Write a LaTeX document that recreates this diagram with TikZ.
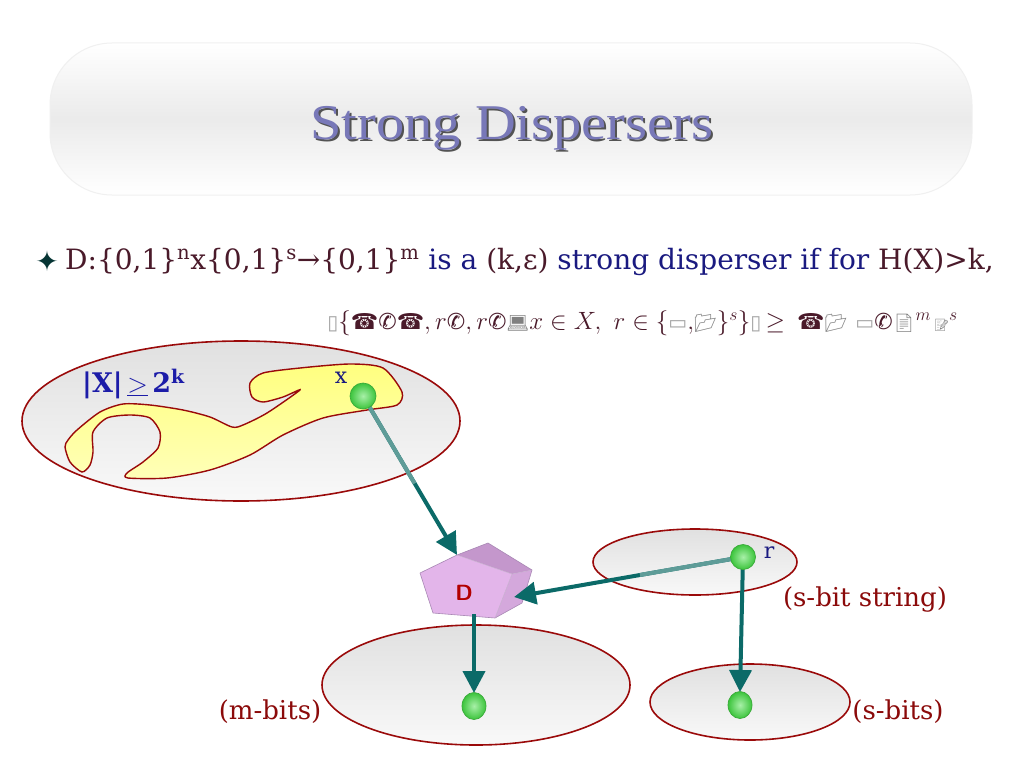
\RequirePackage{fix-cm}
\documentclass[tikz,border=0pt]{standalone}
\usepackage{fontspec}
\usetikzlibrary{shapes.geometric,arrows.meta,calc}
\setmainfont{DejaVu Serif}
\newfontfamily\dej{DejaVu Sans}
\newfontfamily\emo{Noto Emoji}
\newfontfamily\titlefont{Liberation Serif}
\newcommand{\emj}[1]{{\emo\color{gray}\fontsize{18}{20}\selectfont #1}}
\newcommand{\dbx}[1]{{\dej\color{gray!70}\fontsize{20}{20}\selectfont #1}}
\definecolor{maroonT}{HTML}{4A1A2A}
\definecolor{navyT}{HTML}{1A1A80}
\definecolor{blueT}{HTML}{1C1CA8}
\definecolor{redL}{HTML}{8B0A0A}
\definecolor{edgeR}{HTML}{9A0A0A}
\definecolor{tealD}{HTML}{0B6A68}
\definecolor{tealL}{HTML}{5E9C98}
\definecolor{titleC}{HTML}{7878B8}
\definecolor{penF}{HTML}{E3B5EA}
\definecolor{penT}{HTML}{C497CC}
\definecolor{penS}{HTML}{D4A8DC}
\definecolor{penE}{HTML}{A888B4}
\definecolor{ballIn}{HTML}{A8F0A8}
\definecolor{ballOut}{HTML}{3CC43C}
\definecolor{ballEdge}{HTML}{3AAA3A}
\tikzset{
  setnode/.style={ellipse, draw=edgeR, line width=1.6pt, top color=gray!24, bottom color=gray!5, inner sep=0pt},
  ball/.style={circle, draw=ballEdge, line width=0.7pt, inner color=ballIn, outer color=ballOut, inner sep=0pt, minimum size=#1},
  ball/.default=25pt,
  conn/.style={draw=tealD, line width=4pt, -{Triangle[length=22pt,width=22pt]}},
  connlight/.style={draw=tealL, line width=4pt},
  lbl/.style={font=\fontsize{26}{30}\selectfont, text=redL, inner sep=0pt},
  small/.style={font=\fontsize{22}{24}\selectfont, text=navyT, inner sep=0pt}
}
\begin{document}
\begin{tikzpicture}[x=1pt,y=-1pt]
\fill[white] (0,0) rectangle (1024,768);
\useasboundingbox (0,0) rectangle (1024,768);
% title box
\node[draw=gray!12, line width=1pt, rounded corners=62pt, minimum width=922pt, minimum height=152pt,
  top color=white, bottom color=white, middle color=gray!16] (titlebox) at (511,119) {};
\node[text=gray!65!black, font=\titlefont\fontsize{50}{56}\selectfont, xscale=1.13] at (514,130) {Strong Dispersers};
\node[text=titleC, font=\titlefont\fontsize{50}{56}\selectfont, xscale=1.13] (title) at (512,128) {Strong Dispersers};
% bullet line
\node[text=tealD!50!black, font=\dej\fontsize{28}{30}\selectfont, inner sep=0pt] (bul) at (47,261) {✦};
\node[anchor=west, inner sep=0pt, font=\fontsize{28}{32}\selectfont] (line1) at (65,262)
 {\textcolor{maroonT}{D:\{0,1\}\textsuperscript{n}x\{0,1\}\textsuperscript{s}→\{0,1\}\textsuperscript{m}}
  \textcolor{navyT}{is a} \textcolor{maroonT}{(k,ε)} \textcolor{navyT}{strong disperser if for} \textcolor{maroonT}{H(X)>k,}};
% garbled formula line
\node[anchor=east, inner sep=0pt, text=maroonT, font=\fontsize{25}{28}\selectfont] (line2) at (958,323)
 {\dbx{▯}$\{${\dej\fontsize{22}{22}\selectfont ☎✆☎}$,r${\dej\fontsize{22}{22}\selectfont ✆}$,r${\dej\fontsize{22}{22}\selectfont ✆}\emj{💻}$x\in X,\ r\in\{$\dbx{▭}$,$\emj{📂}$\}^s\}$\dbx{▯}$\,\geq\,$ {\dej\fontsize{22}{22}\selectfont ☎}\emj{📂} \dbx{▭}{\dej\fontsize{22}{22}\selectfont ✆}\emj{📄}$^{m\,}${\emo\color{gray}\fontsize{12}{12}\selectfont 📝}$^{s}$};
% sets
\node[setnode, minimum width=438pt, minimum height=160pt] (Xset) at (241,421) {};
\draw[edgeR, line width=1.4pt, top color=yellow!50!white, bottom color=yellow!28!white]
  plot[smooth cycle, tension=0.45] coordinates {
  (68,440) (77,430) (100,412) (123,404) (150,405) (183,410) (210,417) (232,427)
  (243,425) (267,413) (300,390) (283,397) (263,402) (252,397) (250,383) (263,373)
  (300,368) (350,364) (383,368) (402,392) (397,405) (367,410) (323,418) (283,435)
  (250,455) (210,470) (167,478) (128,478) (127,473) (143,462) (158,448) (160,432)
  (150,418) (130,415) (107,418) (93,432) (93,452) (90,465) (82,472) (70,462) (65,447)};
\node[setnode, minimum width=204pt, minimum height=66pt] (Rset) at (695,562) {};
\node[setnode, minimum width=308pt, minimum height=120pt] (Mset) at (476,685) {};
\node[setnode, minimum width=200pt, minimum height=76pt] (Sset) at (750,702) {};
% labels
\node[font=\bfseries\fontsize{27}{30}\selectfont, text=blueT, anchor=west, inner sep=0pt] (xsize) at (82,384) {|X|\,$\underline{>}$\,2\textsuperscript{k}};
\node[small] (xlab) at (341,378) {x};
\node[small] (rlab) at (769,553) {r};
\node[lbl] (sbs) at (865,600) {(s-bit string)};
\node[lbl] (mb) at (270,712) {(m-bits)};
\node[lbl] (sb) at (898,712) {(s-bits)};
% pentagon D
\coordinate (pA) at (420,573); \coordinate (pB) at (457,555); \coordinate (pC) at (512,574);
\coordinate (pD) at (495,618); \coordinate (pE) at (433,613);
\coordinate (pT1) at (488,543); \coordinate (pT2) at (532,570); \coordinate (pS) at (522,603);
\fill[penT] (pB) -- (pT1) -- (pT2) -- (pC) -- cycle;
\fill[penS] (pC) -- (pT2) -- (pS) -- (pD) -- cycle;
\fill[penF] (pA) -- (pB) -- (pC) -- (pD) -- (pE) -- cycle;
\draw[penE, line width=0.6pt, line join=round] (pA) -- (pB) -- (pT1) -- (pT2) -- (pS) -- (pD) -- (pE) -- cycle;
\draw[penE!70, line width=0.4pt] (pB) -- (pC) -- (pD) (pC) -- (pT2);
\node[font=\sffamily\bfseries\fontsize{22}{26}\selectfont, text=red!70!black, inner sep=0pt] (Dn) at (464,593) {D};
\coordinate (Dtop) at (457,555);
\coordinate (Dright) at (514,597);
\coordinate (Dbot) at (474,614);
% ball positions
\coordinate (xb) at (363,396);
\coordinate (rb) at (743,557);
\coordinate (mb) at (474,706);
\coordinate (sbc) at (740,705);
% connectors
\draw[conn] (xb) -- (Dtop);
\draw[connlight] (xb) -- ($(xb)!0.55!(Dtop)$);
\draw[conn] (rb) -- (Dright);
\draw[connlight] (rb) -- ($(rb)!0.45!(Dright)$);
\draw[conn] (Dbot) -- ($(mb)+(0,-13)$);
\draw[conn] (rb) -- ($(sbc)+(0,-13)$);
% balls
\node[ball=26pt] (xball) at (xb) {};
\node[ball=25pt] (rball) at (rb) {};
\node[ball, minimum width=24pt, minimum height=27pt, ellipse] (mball) at (mb) {};
\node[ball, minimum width=24pt, minimum height=27pt, ellipse] (sball) at (sbc) {};
\end{tikzpicture}
\end{document}
